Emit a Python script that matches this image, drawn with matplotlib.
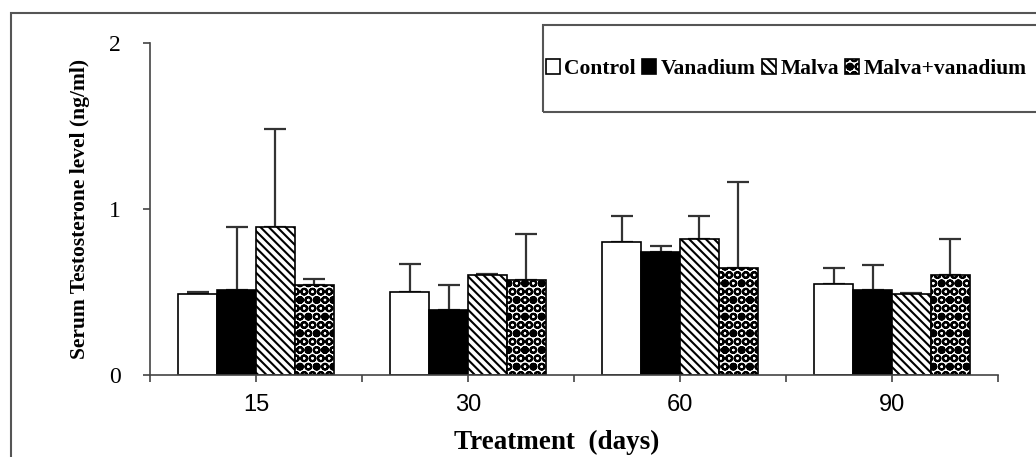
import numpy as np
import matplotlib
matplotlib.use("Agg")
import matplotlib.pyplot as plt
from matplotlib.patches import Rectangle

# data (means and upper SD bars)
days = ["15", "30", "60", "90"]
groups = ["Control", "Vanadium", "Malva", "Malva+vanadium"]
control = [0.49, 0.50, 0.80, 0.55]
vanadium = [0.51, 0.39, 0.74, 0.51]
malva = [0.89, 0.60, 0.82, 0.49]
malva_van = [0.54, 0.57, 0.645, 0.60]
control_err = [0.01, 0.17, 0.16, 0.095]
vanadium_err = [0.38, 0.15, 0.04, 0.15]
malva_err = [0.59, 0.01, 0.14, 0.005]
malva_van_err = [0.04, 0.28, 0.515, 0.22]

SERIF = "Liberation Serif"
SANS = "Liberation Sans"
plt.rcParams["hatch.linewidth"] = 1.5

fig = plt.figure(figsize=(10.36, 4.57), dpi=100)
ax = fig.add_axes([150 / 1036, 1 - 375 / 457, 848 / 1036, 332 / 457])

x = np.arange(len(days))
w = 0.183
series = [control, vanadium, malva, malva_van]
errs = [control_err, vanadium_err, malva_err, malva_van_err]
faces = ["white", "black", "white", "white"]
hatches = [None, None, "\\\\\\\\", "OO."]

handles = []
for i in range(4):
    pos = x + (i - 1.5) * w
    b = ax.bar(pos, series[i], w, color=faces[i], edgecolor="black",
               linewidth=1.2, hatch=hatches[i], zorder=2)
    handles.append(b)
    ax.errorbar(pos, series[i], yerr=[np.zeros(4), errs[i]], fmt="none",
                ecolor="#333333", elinewidth=1.6, capsize=8, capthick=1.6,
                zorder=1)

ax.set_xlim(-0.5, 3.5)
ax.set_ylim(0, 2)
ax.set_xticks(x)
ax.set_xticklabels(days, fontfamily=SANS, fontsize=17)
ax.set_xticks(np.arange(-0.5, 3.6, 1), minor=True)
ax.set_yticks([0, 1, 2])
ax.set_yticklabels(["0", "1", "2"], fontfamily=SERIF, fontsize=17)
ax.tick_params(axis="both", which="both", direction="out", length=5,
               width=1.2, color="#444444")
ax.tick_params(axis="x", pad=9)
ax.tick_params(axis="y", pad=16)
for s in ["top", "right"]:
    ax.spines[s].set_visible(False)
for s in ["left", "bottom"]:
    ax.spines[s].set_color("#444444")
    ax.spines[s].set_linewidth(1.2)

ax.set_xlabel("Treatment  (days)", fontfamily=SERIF, fontweight="bold",
              fontsize=19.5)
ax.xaxis.set_label_coords((557 - 150) / 848, -(442 - 375) / 332)
ax.xaxis.label.set_va("center")
ax.set_ylabel("Serum Testosterone level (ng/ml)", fontfamily=SERIF,
              fontweight="bold", fontsize=15.5)
ax.yaxis.set_label_coords(-(150 - 80) / 848, 0.5)
ax.yaxis.label.set_va("center")

# outer frame and legend box (both run past the right edge)
fig.patches.append(Rectangle((11 / 1036, -0.1), 1.2, 1 - 13 / 457 + 0.1,
                             transform=fig.transFigure, fill=False,
                             edgecolor="#555555", linewidth=1.5))
fig.patches.append(Rectangle((543 / 1036, 1 - 112 / 457), 0.6, 87 / 457,
                             transform=fig.transFigure, fill=False,
                             edgecolor="#555555", linewidth=1.5))
fig.legend(handles, groups, loc="center left",
           bbox_to_anchor=(546 / 1036, 1 - 69 / 457), ncol=4, frameon=False,
           prop={"family": SERIF, "weight": "bold", "size": 15.5},
           handlelength=0.65, handleheight=0.65, handletextpad=0.2,
           columnspacing=0.3, borderpad=0, borderaxespad=0)

fig.savefig("out.png", dpi=100)
